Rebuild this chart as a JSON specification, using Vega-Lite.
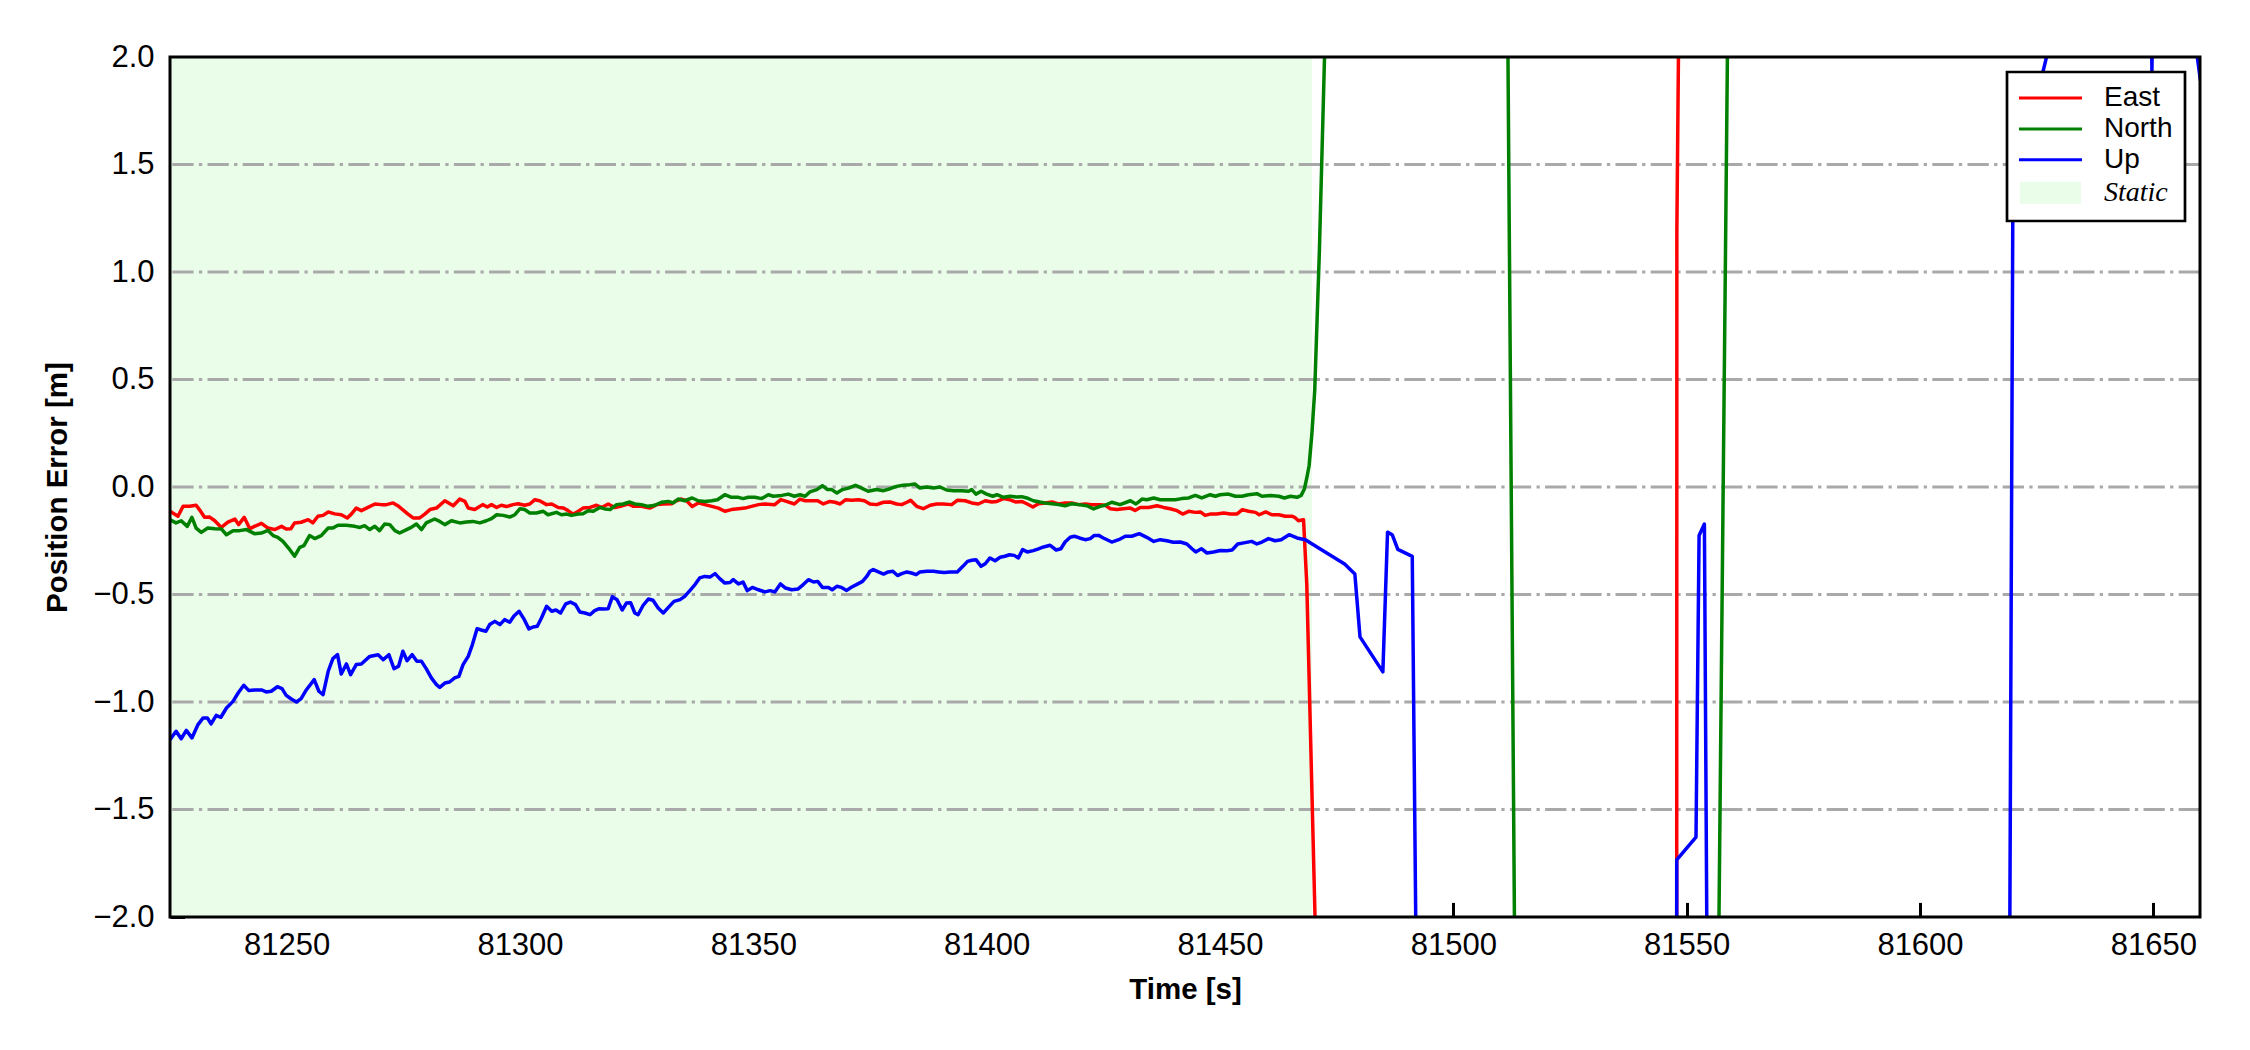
{
"$schema": "https://vega.github.io/schema/vega-lite/v6.json",
"width": 2030, "height": 860,
"autosize": {"type": "none"},
"padding": {"left": 170, "top": 57, "right": 50, "bottom": 133},
"background": "white",
"config": {
  "view": {"stroke": null},
  "font": "Liberation Sans",
  "axis": {"domain": false, "grid": false, "tickColor": "black", "tickWidth": 3, "tickSize": -14.6,
    "labelFont": "Liberation Sans", "labelFontSize": 31, "labelColor": "black",
    "titleFont": "Liberation Sans", "titleFontSize": 29.5, "titleFontWeight": "bold", "titleColor": "black",
    "labelFlush": false, "labelOverlap": false, "labelBound": false, "zindex": 1},
  "axisX": {"labelPadding": 28, "titlePadding": 15},
  "axisY": {"labelPadding": 30.6, "titlePadding": 20}
},
"layer": [
{
  "data": {"values": [{"series": "Static", "t": 81225, "t2": 81469.7}]},
  "mark": {"type": "rect"},
  "encoding": {
    "x": {"field": "t", "type": "quantitative", "scale": {"domain": [81225, 81660], "nice": false, "zero": false}, "title": "Time [s]"},
    "x2": {"field": "t2"},
    "y": {"datum": -2, "type": "quantitative", "scale": {"domain": [-2, 2], "nice": false, "zero": false}, "title": "Position Error [m]"},
    "y2": {"datum": 2},
    "color": {"field": "series", "type": "nominal", "scale": {"domain": ["East", "North", "Up", "Static"], "range": ["#ff0000", "#008000", "#0000ff", "#e9fde9"]}}
  }
},
{
  "data": {"values": [{"g": -1.5}, {"g": -1}, {"g": -0.5}, {"g": 0}, {"g": 0.5}, {"g": 1}, {"g": 1.5}]},
  "mark": {"type": "rule", "color": "#a9a9a9", "strokeWidth": 3, "strokeDash": [21.3, 5.3, 3.3, 5.3]},
  "encoding": {
    "y": {"field": "g", "type": "quantitative", "scale": {"domain": [-2, 2], "nice": false, "zero": false}, "title": "Position Error [m]"}
  }
},
{
  "data": {"values": [
{"series":"East","t":81225.0,"v":-0.113},{"series":"East","t":81226.7,"v":-0.136},{"series":"East","t":81227.8,"v":-0.090},{"series":"East","t":81229.2,"v":-0.090},{"series":"East","t":81230.6,"v":-0.085},{"series":"East","t":81231.3,"v":-0.105},{"series":"East","t":81232.4,"v":-0.141},{"series":"East","t":81233.5,"v":-0.140},{"series":"East","t":81234.6,"v":-0.157},{"series":"East","t":81236.0,"v":-0.188},{"series":"East","t":81237.4,"v":-0.163},{"series":"East","t":81238.9,"v":-0.149},{"series":"East","t":81239.7,"v":-0.175},{"series":"East","t":81240.9,"v":-0.141},{"series":"East","t":81242.1,"v":-0.194},{"series":"East","t":81243.1,"v":-0.183},{"series":"East","t":81244.6,"v":-0.169},{"series":"East","t":81246.0,"v":-0.191},{"series":"East","t":81247.4,"v":-0.198},{"series":"East","t":81248.9,"v":-0.183},{"series":"East","t":81249.9,"v":-0.195},{"series":"East","t":81250.9,"v":-0.194},{"series":"East","t":81251.7,"v":-0.167},{"series":"East","t":81253.1,"v":-0.164},{"series":"East","t":81254.6,"v":-0.152},{"series":"East","t":81255.6,"v":-0.167},{"series":"East","t":81256.7,"v":-0.136},{"series":"East","t":81257.8,"v":-0.132},{"series":"East","t":81258.9,"v":-0.116},{"series":"East","t":81260.3,"v":-0.125},{"series":"East","t":81261.7,"v":-0.129},{"series":"East","t":81263.0,"v":-0.144},{"series":"East","t":81263.9,"v":-0.125},{"series":"East","t":81264.9,"v":-0.098},{"series":"East","t":81266.0,"v":-0.110},{"series":"East","t":81267.1,"v":-0.098},{"series":"East","t":81268.9,"v":-0.079},{"series":"East","t":81270.3,"v":-0.082},{"series":"East","t":81271.4,"v":-0.082},{"series":"East","t":81272.8,"v":-0.074},{"series":"East","t":81274.0,"v":-0.090},{"series":"East","t":81276.0,"v":-0.126},{"series":"East","t":81277.1,"v":-0.144},{"series":"East","t":81278.5,"v":-0.144},{"series":"East","t":81279.6,"v":-0.126},{"series":"East","t":81280.7,"v":-0.105},{"series":"East","t":81282.1,"v":-0.098},{"series":"East","t":81283.9,"v":-0.064},{"series":"East","t":81285.7,"v":-0.087},{"series":"East","t":81287.1,"v":-0.056},{"series":"East","t":81288.2,"v":-0.067},{"series":"East","t":81288.9,"v":-0.098},{"series":"East","t":81290.3,"v":-0.105},{"series":"East","t":81292.0,"v":-0.082},{"series":"East","t":81293.0,"v":-0.093},{"series":"East","t":81293.9,"v":-0.082},{"series":"East","t":81295.0,"v":-0.095},{"series":"East","t":81296.0,"v":-0.085},{"series":"East","t":81297.1,"v":-0.091},{"series":"East","t":81298.5,"v":-0.082},{"series":"East","t":81299.6,"v":-0.078},{"series":"East","t":81301.0,"v":-0.085},{"series":"East","t":81302.1,"v":-0.079},{"series":"East","t":81303.2,"v":-0.059},{"series":"East","t":81304.2,"v":-0.064},{"series":"East","t":81305.7,"v":-0.082},{"series":"East","t":81306.8,"v":-0.079},{"series":"East","t":81308.2,"v":-0.095},{"series":"East","t":81309.3,"v":-0.098},{"series":"East","t":81310.3,"v":-0.110},{"series":"East","t":81311.4,"v":-0.126},{"series":"East","t":81312.5,"v":-0.113},{"series":"East","t":81313.5,"v":-0.098},{"series":"East","t":81315.0,"v":-0.095},{"series":"East","t":81316.4,"v":-0.085},{"series":"East","t":81317.5,"v":-0.095},{"series":"East","t":81318.9,"v":-0.079},{"series":"East","t":81320.3,"v":-0.095},{"series":"East","t":81321.8,"v":-0.088},{"series":"East","t":81323.2,"v":-0.079},{"series":"East","t":81324.3,"v":-0.090},{"series":"East","t":81326.0,"v":-0.090},{"series":"East","t":81327.8,"v":-0.098},{"series":"East","t":81329.3,"v":-0.082},{"series":"East","t":81330.7,"v":-0.079},{"series":"East","t":81332.5,"v":-0.078},{"series":"East","t":81333.5,"v":-0.064},{"series":"East","t":81334.6,"v":-0.056},{"series":"East","t":81335.7,"v":-0.064},{"series":"East","t":81336.9,"v":-0.091},{"series":"East","t":81338.2,"v":-0.074},{"series":"East","t":81339.6,"v":-0.082},{"series":"East","t":81341.1,"v":-0.090},{"series":"East","t":81342.5,"v":-0.098},{"series":"East","t":81343.9,"v":-0.113},{"series":"East","t":81345.3,"v":-0.105},{"series":"East","t":81346.8,"v":-0.101},{"series":"East","t":81348.2,"v":-0.098},{"series":"East","t":81349.6,"v":-0.090},{"series":"East","t":81351.1,"v":-0.082},{"series":"East","t":81352.5,"v":-0.079},{"series":"East","t":81354.6,"v":-0.082},{"series":"East","t":81355.9,"v":-0.059},{"series":"East","t":81357.1,"v":-0.067},{"series":"East","t":81358.8,"v":-0.079},{"series":"East","t":81360.0,"v":-0.056},{"series":"East","t":81361.1,"v":-0.064},{"series":"East","t":81362.5,"v":-0.064},{"series":"East","t":81363.8,"v":-0.064},{"series":"East","t":81365.0,"v":-0.079},{"series":"East","t":81366.4,"v":-0.067},{"series":"East","t":81367.5,"v":-0.071},{"series":"East","t":81368.6,"v":-0.079},{"series":"East","t":81369.8,"v":-0.059},{"series":"East","t":81371.1,"v":-0.062},{"series":"East","t":81372.5,"v":-0.059},{"series":"East","t":81373.8,"v":-0.064},{"series":"East","t":81375.0,"v":-0.079},{"series":"East","t":81376.4,"v":-0.082},{"series":"East","t":81377.9,"v":-0.071},{"series":"East","t":81379.3,"v":-0.070},{"series":"East","t":81380.7,"v":-0.079},{"series":"East","t":81381.8,"v":-0.082},{"series":"East","t":81382.9,"v":-0.071},{"series":"East","t":81383.7,"v":-0.062},{"series":"East","t":81385.0,"v":-0.090},{"series":"East","t":81386.4,"v":-0.101},{"series":"East","t":81387.9,"v":-0.085},{"series":"East","t":81389.3,"v":-0.079},{"series":"East","t":81390.7,"v":-0.079},{"series":"East","t":81392.5,"v":-0.082},{"series":"East","t":81393.7,"v":-0.062},{"series":"East","t":81395.4,"v":-0.064},{"series":"East","t":81396.8,"v":-0.074},{"series":"East","t":81398.2,"v":-0.079},{"series":"East","t":81399.7,"v":-0.064},{"series":"East","t":81401.1,"v":-0.070},{"series":"East","t":81402.2,"v":-0.067},{"series":"East","t":81403.6,"v":-0.054},{"series":"East","t":81405.0,"v":-0.060},{"series":"East","t":81406.3,"v":-0.070},{"series":"East","t":81407.5,"v":-0.067},{"series":"East","t":81408.6,"v":-0.078},{"series":"East","t":81409.9,"v":-0.093},{"series":"East","t":81411.1,"v":-0.078},{"series":"East","t":81412.5,"v":-0.074},{"series":"East","t":81414.0,"v":-0.070},{"series":"East","t":81415.4,"v":-0.079},{"series":"East","t":81416.8,"v":-0.074},{"series":"East","t":81418.2,"v":-0.074},{"series":"East","t":81419.7,"v":-0.082},{"series":"East","t":81421.1,"v":-0.079},{"series":"East","t":81422.5,"v":-0.082},{"series":"East","t":81424.3,"v":-0.082},{"series":"East","t":81425.4,"v":-0.085},{"series":"East","t":81426.5,"v":-0.101},{"series":"East","t":81427.9,"v":-0.105},{"series":"East","t":81429.3,"v":-0.101},{"series":"East","t":81430.8,"v":-0.098},{"series":"East","t":81431.8,"v":-0.109},{"series":"East","t":81432.9,"v":-0.095},{"series":"East","t":81434.7,"v":-0.095},{"series":"East","t":81436.5,"v":-0.087},{"series":"East","t":81437.9,"v":-0.095},{"series":"East","t":81439.3,"v":-0.101},{"series":"East","t":81440.8,"v":-0.110},{"series":"East","t":81442.0,"v":-0.126},{"series":"East","t":81443.3,"v":-0.113},{"series":"East","t":81444.7,"v":-0.118},{"series":"East","t":81445.8,"v":-0.116},{"series":"East","t":81446.8,"v":-0.132},{"series":"East","t":81447.9,"v":-0.126},{"series":"East","t":81449.3,"v":-0.126},{"series":"East","t":81450.8,"v":-0.121},{"series":"East","t":81452.2,"v":-0.126},{"series":"East","t":81453.6,"v":-0.126},{"series":"East","t":81454.8,"v":-0.105},{"series":"East","t":81456.1,"v":-0.113},{"series":"East","t":81457.6,"v":-0.118},{"series":"East","t":81458.4,"v":-0.129},{"series":"East","t":81459.8,"v":-0.116},{"series":"East","t":81461.1,"v":-0.129},{"series":"East","t":81462.6,"v":-0.129},{"series":"East","t":81464.0,"v":-0.136},{"series":"East","t":81465.4,"v":-0.136},{"series":"East","t":81466.0,"v":-0.141},{"series":"East","t":81466.8,"v":-0.157},{"series":"East","t":81467.9,"v":-0.152},{"series":"East","t":81468.6,"v":-0.454},{"series":"East","t":81471.5,"v":-3.0},{"series":"East","t":81500,"v":-8},{"series":"East","t":81547.5,"v":-40},{"series":"East","t":81547.9,"v":1.2},{"series":"East","t":81549.5,"v":5},{"series":"East","t":81600,"v":8},{"series":"East","t":81660,"v":8},
{"series":"North","t":81225.0,"v":-0.152},{"series":"North","t":81226.3,"v":-0.167},{"series":"North","t":81227.4,"v":-0.157},{"series":"North","t":81228.7,"v":-0.183},{"series":"North","t":81229.7,"v":-0.141},{"series":"North","t":81230.6,"v":-0.191},{"series":"North","t":81231.7,"v":-0.211},{"series":"North","t":81233.1,"v":-0.191},{"series":"North","t":81234.6,"v":-0.194},{"series":"North","t":81236.0,"v":-0.195},{"series":"North","t":81237.1,"v":-0.222},{"series":"North","t":81238.5,"v":-0.203},{"series":"North","t":81239.9,"v":-0.203},{"series":"North","t":81241.4,"v":-0.198},{"series":"North","t":81243.1,"v":-0.217},{"series":"North","t":81244.6,"v":-0.214},{"series":"North","t":81246.0,"v":-0.202},{"series":"North","t":81247.1,"v":-0.226},{"series":"North","t":81248.1,"v":-0.234},{"series":"North","t":81249.2,"v":-0.253},{"series":"North","t":81250.4,"v":-0.284},{"series":"North","t":81251.7,"v":-0.322},{"series":"North","t":81252.8,"v":-0.281},{"series":"North","t":81253.7,"v":-0.273},{"series":"North","t":81254.9,"v":-0.226},{"series":"North","t":81256.0,"v":-0.240},{"series":"North","t":81257.4,"v":-0.226},{"series":"North","t":81258.9,"v":-0.191},{"series":"North","t":81259.9,"v":-0.191},{"series":"North","t":81261.0,"v":-0.178},{"series":"North","t":81262.8,"v":-0.178},{"series":"North","t":81264.6,"v":-0.183},{"series":"North","t":81265.7,"v":-0.188},{"series":"North","t":81266.7,"v":-0.180},{"series":"North","t":81267.8,"v":-0.198},{"series":"North","t":81268.9,"v":-0.183},{"series":"North","t":81269.9,"v":-0.203},{"series":"North","t":81271.0,"v":-0.172},{"series":"North","t":81272.1,"v":-0.175},{"series":"North","t":81273.2,"v":-0.203},{"series":"North","t":81274.2,"v":-0.214},{"series":"North","t":81275.7,"v":-0.198},{"series":"North","t":81276.7,"v":-0.188},{"series":"North","t":81277.8,"v":-0.172},{"series":"North","t":81278.9,"v":-0.198},{"series":"North","t":81279.9,"v":-0.167},{"series":"North","t":81281.7,"v":-0.149},{"series":"North","t":81282.8,"v":-0.160},{"series":"North","t":81283.9,"v":-0.175},{"series":"North","t":81285.3,"v":-0.157},{"series":"North","t":81287.1,"v":-0.167},{"series":"North","t":81288.5,"v":-0.163},{"series":"North","t":81289.9,"v":-0.160},{"series":"North","t":81291.4,"v":-0.167},{"series":"North","t":81292.8,"v":-0.157},{"series":"North","t":81293.9,"v":-0.147},{"series":"North","t":81295.0,"v":-0.129},{"series":"North","t":81296.4,"v":-0.132},{"series":"North","t":81297.8,"v":-0.140},{"series":"North","t":81298.9,"v":-0.129},{"series":"North","t":81300.0,"v":-0.101},{"series":"North","t":81301.0,"v":-0.105},{"series":"North","t":81302.1,"v":-0.121},{"series":"North","t":81303.5,"v":-0.121},{"series":"North","t":81305.0,"v":-0.113},{"series":"North","t":81306.0,"v":-0.129},{"series":"North","t":81307.8,"v":-0.118},{"series":"North","t":81308.9,"v":-0.129},{"series":"North","t":81310.0,"v":-0.126},{"series":"North","t":81311.0,"v":-0.132},{"series":"North","t":81312.5,"v":-0.126},{"series":"North","t":81313.5,"v":-0.124},{"series":"North","t":81314.6,"v":-0.110},{"series":"North","t":81315.7,"v":-0.113},{"series":"North","t":81317.1,"v":-0.095},{"series":"North","t":81318.2,"v":-0.102},{"series":"North","t":81319.3,"v":-0.105},{"series":"North","t":81320.7,"v":-0.082},{"series":"North","t":81322.1,"v":-0.079},{"series":"North","t":81323.5,"v":-0.070},{"series":"North","t":81324.6,"v":-0.079},{"series":"North","t":81326.0,"v":-0.082},{"series":"North","t":81327.5,"v":-0.090},{"series":"North","t":81328.9,"v":-0.085},{"series":"North","t":81330.3,"v":-0.071},{"series":"North","t":81331.8,"v":-0.067},{"series":"North","t":81332.8,"v":-0.074},{"series":"North","t":81333.9,"v":-0.056},{"series":"North","t":81335.3,"v":-0.064},{"series":"North","t":81336.9,"v":-0.051},{"series":"North","t":81338.2,"v":-0.064},{"series":"North","t":81339.6,"v":-0.067},{"series":"North","t":81341.1,"v":-0.064},{"series":"North","t":81342.3,"v":-0.059},{"series":"North","t":81343.9,"v":-0.036},{"series":"North","t":81345.3,"v":-0.048},{"series":"North","t":81346.8,"v":-0.048},{"series":"North","t":81347.8,"v":-0.054},{"series":"North","t":81348.9,"v":-0.048},{"series":"North","t":81350.3,"v":-0.048},{"series":"North","t":81351.8,"v":-0.054},{"series":"North","t":81353.2,"v":-0.036},{"series":"North","t":81354.3,"v":-0.043},{"series":"North","t":81356.1,"v":-0.039},{"series":"North","t":81357.5,"v":-0.033},{"series":"North","t":81358.8,"v":-0.043},{"series":"North","t":81360.0,"v":-0.036},{"series":"North","t":81361.1,"v":-0.043},{"series":"North","t":81362.1,"v":-0.023},{"series":"North","t":81363.6,"v":-0.012},{"series":"North","t":81364.8,"v":0.006},{"series":"North","t":81365.9,"v":-0.012},{"series":"North","t":81366.8,"v":-0.012},{"series":"North","t":81367.9,"v":-0.028},{"series":"North","t":81369.1,"v":-0.012},{"series":"North","t":81370.4,"v":-0.005},{"series":"North","t":81371.9,"v":0.008},{"series":"North","t":81373.2,"v":-0.005},{"series":"North","t":81374.6,"v":-0.020},{"series":"North","t":81376.4,"v":-0.012},{"series":"North","t":81377.9,"v":-0.017},{"series":"North","t":81379.3,"v":-0.008},{"series":"North","t":81380.7,"v":0.003},{"series":"North","t":81382.1,"v":0.008},{"series":"North","t":81383.6,"v":0.011},{"series":"North","t":81384.6,"v":0.014},{"series":"North","t":81385.7,"v":-0.005},{"series":"North","t":81387.2,"v":0.000},{"series":"North","t":81388.6,"v":-0.005},{"series":"North","t":81390.0,"v":0.000},{"series":"North","t":81391.4,"v":-0.014},{"series":"North","t":81392.9,"v":-0.017},{"series":"North","t":81394.7,"v":-0.017},{"series":"North","t":81396.1,"v":-0.020},{"series":"North","t":81396.8,"v":-0.012},{"series":"North","t":81397.7,"v":-0.033},{"series":"North","t":81398.8,"v":-0.020},{"series":"North","t":81400.0,"v":-0.033},{"series":"North","t":81401.3,"v":-0.043},{"series":"North","t":81402.2,"v":-0.036},{"series":"North","t":81403.6,"v":-0.048},{"series":"North","t":81405.0,"v":-0.043},{"series":"North","t":81406.4,"v":-0.047},{"series":"North","t":81407.5,"v":-0.045},{"series":"North","t":81408.6,"v":-0.051},{"series":"North","t":81410.0,"v":-0.064},{"series":"North","t":81411.4,"v":-0.070},{"series":"North","t":81412.5,"v":-0.074},{"series":"North","t":81414.0,"v":-0.078},{"series":"North","t":81415.4,"v":-0.082},{"series":"North","t":81416.8,"v":-0.087},{"series":"North","t":81418.2,"v":-0.078},{"series":"North","t":81419.7,"v":-0.082},{"series":"North","t":81421.5,"v":-0.087},{"series":"North","t":81422.9,"v":-0.102},{"series":"North","t":81424.3,"v":-0.090},{"series":"North","t":81425.4,"v":-0.085},{"series":"North","t":81426.8,"v":-0.071},{"series":"North","t":81428.6,"v":-0.082},{"series":"North","t":81430.8,"v":-0.064},{"series":"North","t":81432.0,"v":-0.079},{"series":"North","t":81433.3,"v":-0.056},{"series":"North","t":81434.3,"v":-0.059},{"series":"North","t":81435.8,"v":-0.051},{"series":"North","t":81437.2,"v":-0.059},{"series":"North","t":81439.0,"v":-0.059},{"series":"North","t":81440.4,"v":-0.059},{"series":"North","t":81441.8,"v":-0.054},{"series":"North","t":81443.3,"v":-0.051},{"series":"North","t":81444.7,"v":-0.039},{"series":"North","t":81446.1,"v":-0.051},{"series":"North","t":81447.9,"v":-0.036},{"series":"North","t":81449.0,"v":-0.043},{"series":"North","t":81450.0,"v":-0.036},{"series":"North","t":81451.8,"v":-0.033},{"series":"North","t":81453.3,"v":-0.043},{"series":"North","t":81454.7,"v":-0.043},{"series":"North","t":81456.1,"v":-0.036},{"series":"North","t":81457.9,"v":-0.031},{"series":"North","t":81459.0,"v":-0.043},{"series":"North","t":81460.8,"v":-0.040},{"series":"North","t":81462.6,"v":-0.043},{"series":"North","t":81463.8,"v":-0.051},{"series":"North","t":81465.1,"v":-0.043},{"series":"North","t":81466.5,"v":-0.048},{"series":"North","t":81467.4,"v":-0.039},{"series":"North","t":81468.1,"v":-0.008},{"series":"North","t":81468.6,"v":0.042},{"series":"North","t":81469.1,"v":0.100},{"series":"North","t":81469.7,"v":0.25},{"series":"North","t":81470.3,"v":0.45},{"series":"North","t":81471.3,"v":1.1},{"series":"North","t":81472.4,"v":2.0},{"series":"North","t":81473.4,"v":2.9},{"series":"North","t":81490,"v":8},{"series":"North","t":81511.5,"v":2.6},{"series":"North","t":81513.3,"v":-2.6},{"series":"North","t":81530,"v":-8},{"series":"North","t":81556.7,"v":-2.5},{"series":"North","t":81559,"v":2.6},{"series":"North","t":81600,"v":8},{"series":"North","t":81660,"v":8},
{"series":"Up","t":81225.0,"v":-1.175},{"series":"Up","t":81226.3,"v":-1.136},{"series":"Up","t":81227.4,"v":-1.171},{"series":"Up","t":81228.5,"v":-1.132},{"series":"Up","t":81229.7,"v":-1.167},{"series":"Up","t":81231.0,"v":-1.105},{"series":"Up","t":81232.1,"v":-1.074},{"series":"Up","t":81233.0,"v":-1.074},{"series":"Up","t":81233.8,"v":-1.102},{"series":"Up","t":81234.9,"v":-1.062},{"series":"Up","t":81235.9,"v":-1.071},{"series":"Up","t":81237.1,"v":-1.028},{"series":"Up","t":81238.5,"v":-0.997},{"series":"Up","t":81239.6,"v":-0.958},{"series":"Up","t":81240.8,"v":-0.922},{"series":"Up","t":81241.9,"v":-0.947},{"series":"Up","t":81243.1,"v":-0.944},{"series":"Up","t":81244.6,"v":-0.944},{"series":"Up","t":81245.6,"v":-0.953},{"series":"Up","t":81246.7,"v":-0.950},{"series":"Up","t":81248.0,"v":-0.929},{"series":"Up","t":81249.0,"v":-0.938},{"series":"Up","t":81249.9,"v":-0.969},{"series":"Up","t":81251.0,"v":-0.986},{"series":"Up","t":81252.1,"v":-1.000},{"series":"Up","t":81253.1,"v":-0.984},{"series":"Up","t":81254.2,"v":-0.944},{"series":"Up","t":81255.9,"v":-0.896},{"series":"Up","t":81256.9,"v":-0.950},{"series":"Up","t":81257.8,"v":-0.966},{"series":"Up","t":81258.9,"v":-0.857},{"series":"Up","t":81259.9,"v":-0.798},{"series":"Up","t":81260.9,"v":-0.780},{"series":"Up","t":81261.7,"v":-0.870},{"series":"Up","t":81262.8,"v":-0.823},{"series":"Up","t":81263.7,"v":-0.873},{"series":"Up","t":81264.9,"v":-0.826},{"series":"Up","t":81266.0,"v":-0.823},{"series":"Up","t":81267.8,"v":-0.788},{"series":"Up","t":81269.6,"v":-0.780},{"series":"Up","t":81270.7,"v":-0.803},{"series":"Up","t":81271.9,"v":-0.780},{"series":"Up","t":81273.0,"v":-0.845},{"series":"Up","t":81274.0,"v":-0.833},{"series":"Up","t":81274.9,"v":-0.764},{"series":"Up","t":81275.8,"v":-0.808},{"series":"Up","t":81276.9,"v":-0.780},{"series":"Up","t":81277.9,"v":-0.811},{"series":"Up","t":81278.9,"v":-0.811},{"series":"Up","t":81279.9,"v":-0.845},{"series":"Up","t":81281.0,"v":-0.888},{"series":"Up","t":81282.1,"v":-0.919},{"series":"Up","t":81282.8,"v":-0.932},{"series":"Up","t":81283.9,"v":-0.912},{"series":"Up","t":81284.9,"v":-0.907},{"series":"Up","t":81286.0,"v":-0.888},{"series":"Up","t":81286.9,"v":-0.881},{"series":"Up","t":81287.8,"v":-0.826},{"series":"Up","t":81288.9,"v":-0.788},{"series":"Up","t":81289.8,"v":-0.733},{"series":"Up","t":81290.8,"v":-0.659},{"series":"Up","t":81291.7,"v":-0.665},{"series":"Up","t":81292.7,"v":-0.671},{"series":"Up","t":81293.5,"v":-0.640},{"series":"Up","t":81294.6,"v":-0.625},{"series":"Up","t":81295.7,"v":-0.640},{"series":"Up","t":81296.7,"v":-0.617},{"series":"Up","t":81297.8,"v":-0.629},{"series":"Up","t":81298.7,"v":-0.600},{"series":"Up","t":81299.8,"v":-0.578},{"series":"Up","t":81300.8,"v":-0.612},{"series":"Up","t":81301.9,"v":-0.660},{"series":"Up","t":81302.8,"v":-0.651},{"series":"Up","t":81303.7,"v":-0.648},{"series":"Up","t":81304.6,"v":-0.609},{"series":"Up","t":81305.7,"v":-0.555},{"series":"Up","t":81306.8,"v":-0.578},{"series":"Up","t":81307.7,"v":-0.572},{"series":"Up","t":81308.7,"v":-0.586},{"series":"Up","t":81309.8,"v":-0.544},{"series":"Up","t":81310.8,"v":-0.535},{"series":"Up","t":81311.9,"v":-0.547},{"series":"Up","t":81312.8,"v":-0.581},{"series":"Up","t":81313.9,"v":-0.586},{"series":"Up","t":81315.0,"v":-0.594},{"series":"Up","t":81316.0,"v":-0.575},{"series":"Up","t":81317.0,"v":-0.566},{"series":"Up","t":81318.0,"v":-0.567},{"series":"Up","t":81318.9,"v":-0.566},{"series":"Up","t":81319.8,"v":-0.510},{"series":"Up","t":81320.8,"v":-0.524},{"series":"Up","t":81321.9,"v":-0.572},{"series":"Up","t":81322.8,"v":-0.540},{"series":"Up","t":81323.7,"v":-0.538},{"series":"Up","t":81324.6,"v":-0.586},{"series":"Up","t":81325.3,"v":-0.594},{"series":"Up","t":81326.4,"v":-0.550},{"series":"Up","t":81327.5,"v":-0.521},{"series":"Up","t":81328.5,"v":-0.527},{"series":"Up","t":81329.6,"v":-0.563},{"series":"Up","t":81330.7,"v":-0.586},{"series":"Up","t":81331.8,"v":-0.560},{"series":"Up","t":81333.0,"v":-0.532},{"series":"Up","t":81334.3,"v":-0.524},{"series":"Up","t":81335.3,"v":-0.509},{"series":"Up","t":81336.4,"v":-0.482},{"series":"Up","t":81337.5,"v":-0.454},{"series":"Up","t":81338.5,"v":-0.423},{"series":"Up","t":81339.6,"v":-0.416},{"series":"Up","t":81340.7,"v":-0.419},{"series":"Up","t":81341.8,"v":-0.403},{"series":"Up","t":81342.8,"v":-0.426},{"series":"Up","t":81343.9,"v":-0.447},{"series":"Up","t":81345.0,"v":-0.444},{"series":"Up","t":81345.7,"v":-0.431},{"series":"Up","t":81346.8,"v":-0.451},{"series":"Up","t":81347.8,"v":-0.442},{"series":"Up","t":81348.7,"v":-0.482},{"series":"Up","t":81349.8,"v":-0.467},{"series":"Up","t":81351.1,"v":-0.478},{"series":"Up","t":81352.5,"v":-0.488},{"series":"Up","t":81353.6,"v":-0.482},{"series":"Up","t":81354.6,"v":-0.488},{"series":"Up","t":81355.8,"v":-0.451},{"series":"Up","t":81356.9,"v":-0.470},{"series":"Up","t":81358.2,"v":-0.478},{"series":"Up","t":81359.6,"v":-0.474},{"series":"Up","t":81360.7,"v":-0.454},{"series":"Up","t":81361.8,"v":-0.431},{"series":"Up","t":81362.9,"v":-0.442},{"series":"Up","t":81363.8,"v":-0.439},{"series":"Up","t":81364.8,"v":-0.467},{"series":"Up","t":81366.1,"v":-0.467},{"series":"Up","t":81366.9,"v":-0.478},{"series":"Up","t":81367.9,"v":-0.462},{"series":"Up","t":81368.9,"v":-0.467},{"series":"Up","t":81370.0,"v":-0.481},{"series":"Up","t":81371.1,"v":-0.465},{"series":"Up","t":81372.1,"v":-0.454},{"series":"Up","t":81373.4,"v":-0.439},{"series":"Up","t":81374.3,"v":-0.416},{"series":"Up","t":81375.0,"v":-0.392},{"series":"Up","t":81375.7,"v":-0.384},{"series":"Up","t":81376.8,"v":-0.395},{"series":"Up","t":81377.9,"v":-0.405},{"series":"Up","t":81378.9,"v":-0.395},{"series":"Up","t":81379.9,"v":-0.392},{"series":"Up","t":81380.9,"v":-0.412},{"series":"Up","t":81381.8,"v":-0.403},{"series":"Up","t":81382.9,"v":-0.395},{"series":"Up","t":81383.9,"v":-0.400},{"series":"Up","t":81384.9,"v":-0.408},{"series":"Up","t":81385.7,"v":-0.395},{"series":"Up","t":81387.2,"v":-0.392},{"series":"Up","t":81388.6,"v":-0.392},{"series":"Up","t":81389.7,"v":-0.395},{"series":"Up","t":81390.9,"v":-0.398},{"series":"Up","t":81392.2,"v":-0.395},{"series":"Up","t":81393.7,"v":-0.395},{"series":"Up","t":81394.9,"v":-0.369},{"series":"Up","t":81395.9,"v":-0.346},{"series":"Up","t":81396.8,"v":-0.341},{"series":"Up","t":81397.7,"v":-0.338},{"series":"Up","t":81398.8,"v":-0.369},{"series":"Up","t":81399.7,"v":-0.357},{"series":"Up","t":81400.7,"v":-0.330},{"series":"Up","t":81401.8,"v":-0.343},{"series":"Up","t":81402.9,"v":-0.327},{"series":"Up","t":81403.9,"v":-0.322},{"series":"Up","t":81404.9,"v":-0.315},{"series":"Up","t":81405.9,"v":-0.318},{"series":"Up","t":81406.8,"v":-0.330},{"series":"Up","t":81407.7,"v":-0.291},{"series":"Up","t":81408.7,"v":-0.302},{"series":"Up","t":81410.0,"v":-0.296},{"series":"Up","t":81411.1,"v":-0.288},{"series":"Up","t":81412.2,"v":-0.279},{"series":"Up","t":81413.6,"v":-0.271},{"series":"Up","t":81414.9,"v":-0.293},{"series":"Up","t":81415.9,"v":-0.287},{"series":"Up","t":81416.8,"v":-0.256},{"series":"Up","t":81417.9,"v":-0.234},{"series":"Up","t":81418.8,"v":-0.229},{"series":"Up","t":81419.9,"v":-0.237},{"series":"Up","t":81421.1,"v":-0.245},{"series":"Up","t":81422.2,"v":-0.240},{"series":"Up","t":81423.0,"v":-0.226},{"series":"Up","t":81424.0,"v":-0.225},{"series":"Up","t":81425.0,"v":-0.237},{"series":"Up","t":81426.8,"v":-0.256},{"series":"Up","t":81428.3,"v":-0.245},{"series":"Up","t":81429.7,"v":-0.229},{"series":"Up","t":81431.1,"v":-0.229},{"series":"Up","t":81432.7,"v":-0.217},{"series":"Up","t":81434.3,"v":-0.234},{"series":"Up","t":81435.8,"v":-0.253},{"series":"Up","t":81437.2,"v":-0.245},{"series":"Up","t":81438.6,"v":-0.250},{"series":"Up","t":81440.0,"v":-0.257},{"series":"Up","t":81441.5,"v":-0.256},{"series":"Up","t":81442.9,"v":-0.265},{"series":"Up","t":81444.0,"v":-0.287},{"series":"Up","t":81444.8,"v":-0.302},{"series":"Up","t":81446.0,"v":-0.287},{"series":"Up","t":81447.2,"v":-0.307},{"series":"Up","t":81448.6,"v":-0.302},{"series":"Up","t":81450.1,"v":-0.295},{"series":"Up","t":81451.5,"v":-0.296},{"series":"Up","t":81452.6,"v":-0.293},{"series":"Up","t":81453.8,"v":-0.265},{"series":"Up","t":81455.1,"v":-0.260},{"series":"Up","t":81456.8,"v":-0.253},{"series":"Up","t":81457.9,"v":-0.265},{"series":"Up","t":81459.0,"v":-0.256},{"series":"Up","t":81460.4,"v":-0.240},{"series":"Up","t":81461.8,"v":-0.250},{"series":"Up","t":81463.1,"v":-0.245},{"series":"Up","t":81464.8,"v":-0.222},{"series":"Up","t":81466.5,"v":-0.237},{"series":"Up","t":81468.3,"v":-0.245},{"series":"Up","t":81469.4,"v":-0.260},{"series":"Up","t":81476.7,"v":-0.358},{"series":"Up","t":81478.9,"v":-0.405},{"series":"Up","t":81480.0,"v":-0.697},{"series":"Up","t":81484.9,"v":-0.860},{"series":"Up","t":81485.9,"v":-0.210},{"series":"Up","t":81486.9,"v":-0.222},{"series":"Up","t":81488.1,"v":-0.290},{"series":"Up","t":81491.2,"v":-0.323},{"series":"Up","t":81492.6,"v":-3.5},{"series":"Up","t":81520,"v":-40},{"series":"Up","t":81547.0,"v":-40},{"series":"Up","t":81547.87,"v":-1.734},{"series":"Up","t":81552.0,"v":-1.628},{"series":"Up","t":81552.66,"v":-0.226},{"series":"Up","t":81553.8,"v":-0.172},{"series":"Up","t":81555.0,"v":-4.5},{"series":"Up","t":81580,"v":-40},{"series":"Up","t":81619.2,"v":-2.3},{"series":"Up","t":81619.9,"v":1.35},{"series":"Up","t":81628,"v":2.08},{"series":"Up","t":81635,"v":3},{"series":"Up","t":81645,"v":3},{"series":"Up","t":81649.4,"v":2.6},{"series":"Up","t":81649.7,"v":1.93},{"series":"Up","t":81650.0,"v":2.6},{"series":"Up","t":81655,"v":3},{"series":"Up","t":81657,"v":3},{"series":"Up","t":81658.8,"v":2.1},{"series":"Up","t":81660.1,"v":1.89}
  ]},
  "mark": {"type": "line", "strokeWidth": 3.5, "clip": true, "strokeJoin": "round"},
  "encoding": {
    "x": {"field": "t", "type": "quantitative", "scale": {"domain": [81225, 81660], "nice": false, "zero": false},
      "axis": {"values": [81250, 81300, 81350, 81400, 81450, 81500, 81550, 81600, 81650], "format": "d"}, "title": "Time [s]"},
    "y": {"field": "v", "type": "quantitative", "scale": {"domain": [-2, 2], "nice": false, "zero": false},
      "axis": {"values": [-2, -1.5, -1, -0.5, 0, 0.5, 1, 1.5, 2], "format": ".1f"}, "title": "Position Error [m]"},
    "color": {"field": "series", "type": "nominal",
      "scale": {"domain": ["East", "North", "Up", "Static"], "range": ["#ff0000", "#008000", "#0000ff", "#e9fde9"]},
      "legend": {"title": null, "orient": "top-right", "offset": 15, "padding": 12,
        "fillColor": "white", "strokeColor": "black",
        "labelFont": "Liberation Sans", "labelFontSize": 28, "labelColor": "black", "labelLimit": 300,
        "symbolSize": 400, "symbolType": "M-3.15,0H3.15", "symbolStrokeWidth": 3,
        "symbolOffset": 17.5, "labelOffset": 39.5, "rowPadding": 2.9,
        "encode": {
          "legend": {"update": {"strokeWidth": {"value": 2.7}}},
          "symbols": {"update": {
            "shape": {"signal": "datum.value === 'Static' ? 'M-2.9,-0.95H2.9V0.95H-2.9Z' : 'M-3.15,0H3.15'"},
            "fill": {"signal": "datum.value === 'Static' ? '#e9fde9' : 'transparent'"},
            "stroke": {"signal": "datum.value === 'Static' ? 'transparent' : scale('color', datum.value)"},
            "strokeWidth": {"value": 3},
            "opacity": {"value": 1}
          }},
          "labels": {"update": {
            "font": {"signal": "datum.value === 'Static' ? 'Liberation Serif' : 'Liberation Sans'"},
            "fontStyle": {"signal": "datum.value === 'Static' ? 'italic' : 'normal'"}
          }}
        }
      }
    }
  }
},
{
  "data": {"values": [{}]},
  "mark": {"type": "rect", "filled": false, "stroke": "black", "strokeWidth": 3},
  "encoding": {
    "x": {"datum": 81225, "type": "quantitative", "scale": {"domain": [81225, 81660], "nice": false, "zero": false}, "title": "Time [s]"},
    "x2": {"datum": 81660},
    "y": {"datum": -2, "type": "quantitative", "scale": {"domain": [-2, 2], "nice": false, "zero": false}, "title": "Position Error [m]"},
    "y2": {"datum": 2}
  }
}
]
}
